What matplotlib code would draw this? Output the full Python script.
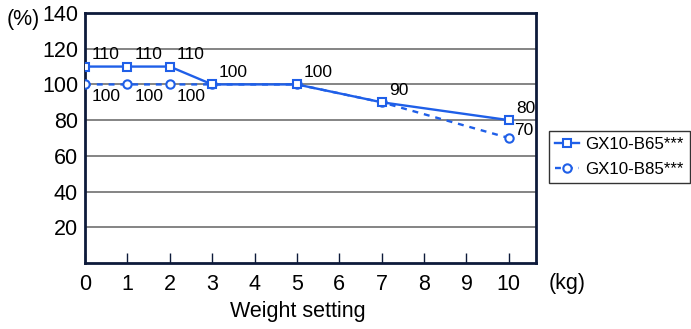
import matplotlib
matplotlib.use("Agg")
import matplotlib.pyplot as plt

plt.rcParams['font.family'] = ['Liberation Sans', 'DejaVu Sans']

weights = [0, 1, 2, 3, 5, 7, 10]
b65 = [110, 110, 110, 100, 100, 90, 80]
b85 = [100, 100, 100, 100, 100, 90, 70]
labels = ["GX10-B65***", "GX10-B85***"]
xticks = list(range(0, 11))
yticks = [20, 40, 60, 80, 100, 120, 140]

blue = "#1f5fe8"
navy = "#0d1a3a"

fig = plt.figure(figsize=(6.91, 3.29), dpi=100)
ax = fig.add_axes([85/691, 1-263/329, (536-85)/691, (263-13)/329])

ax.set_xlim(0, 10.64)
ax.set_ylim(0, 140)
for y in yticks[:-1]:
    ax.axhline(y, color="#707070", lw=1.2, zorder=1)

ax.plot(weights, b85, color=blue, lw=1.7, ls=(0, (2.5, 2.5)), marker="o", ms=6,
        mfc="white", mec=blue, mew=1.5, zorder=3, label=labels[1])
ax.plot(weights, b65, color=blue, lw=1.7, marker="s", ms=6,
        mfc="white", mec=blue, mew=1.5, zorder=4, label=labels[0])

fs_ann = 12.5
for x, y in zip(weights, b65):
    ax.annotate(str(y), (x, y), xytext=(5, 3), textcoords="offset points",
                fontsize=fs_ann, ha="left", va="bottom")
for x, y in zip(weights[:3], b85[:3]):
    ax.annotate(str(y), (x, y), xytext=(5, -3), textcoords="offset points",
                fontsize=fs_ann, ha="left", va="top")
ax.annotate(str(b85[-1]), (weights[-1], b85[-1]), xytext=(4, 0), textcoords="offset points",
            fontsize=fs_ann, ha="left", va="bottom")

fs = 15.5
ax.set_xticks(xticks)
ax.set_xticklabels([str(t) for t in xticks])
ax.set_yticks(yticks)
ax.set_yticklabels([str(t) for t in yticks])
ax.tick_params(axis="x", direction="in", length=7, width=1, color=navy, labelsize=fs, pad=8)
ax.tick_params(axis="y", length=0, labelsize=fs, pad=5)
for s in ax.spines.values():
    s.set_color(navy)
    s.set_linewidth(2)

fig.text(40/691, 1-20/329, "(%)", fontsize=fs, ha="right", va="center")
fig.text(549/691, 1-283/329, "(kg)", fontsize=fs, ha="left", va="center")
fig.text(298/691, 1-312/329, "Weight setting", fontsize=fs, ha="center", va="center")

h, l = ax.get_legend_handles_labels()
leg = fig.legend([h[1], h[0]], [l[1], l[0]], loc="upper left",
                 bbox_to_anchor=(549/691, 1-131/329), fontsize=12.2, frameon=True,
                 fancybox=False, edgecolor="black", handlelength=1.4, handletextpad=0.4,
                 borderpad=0.35, labelspacing=0.6, borderaxespad=0)
leg.get_frame().set_linewidth(1)

fig.savefig("out.png", dpi=100)
